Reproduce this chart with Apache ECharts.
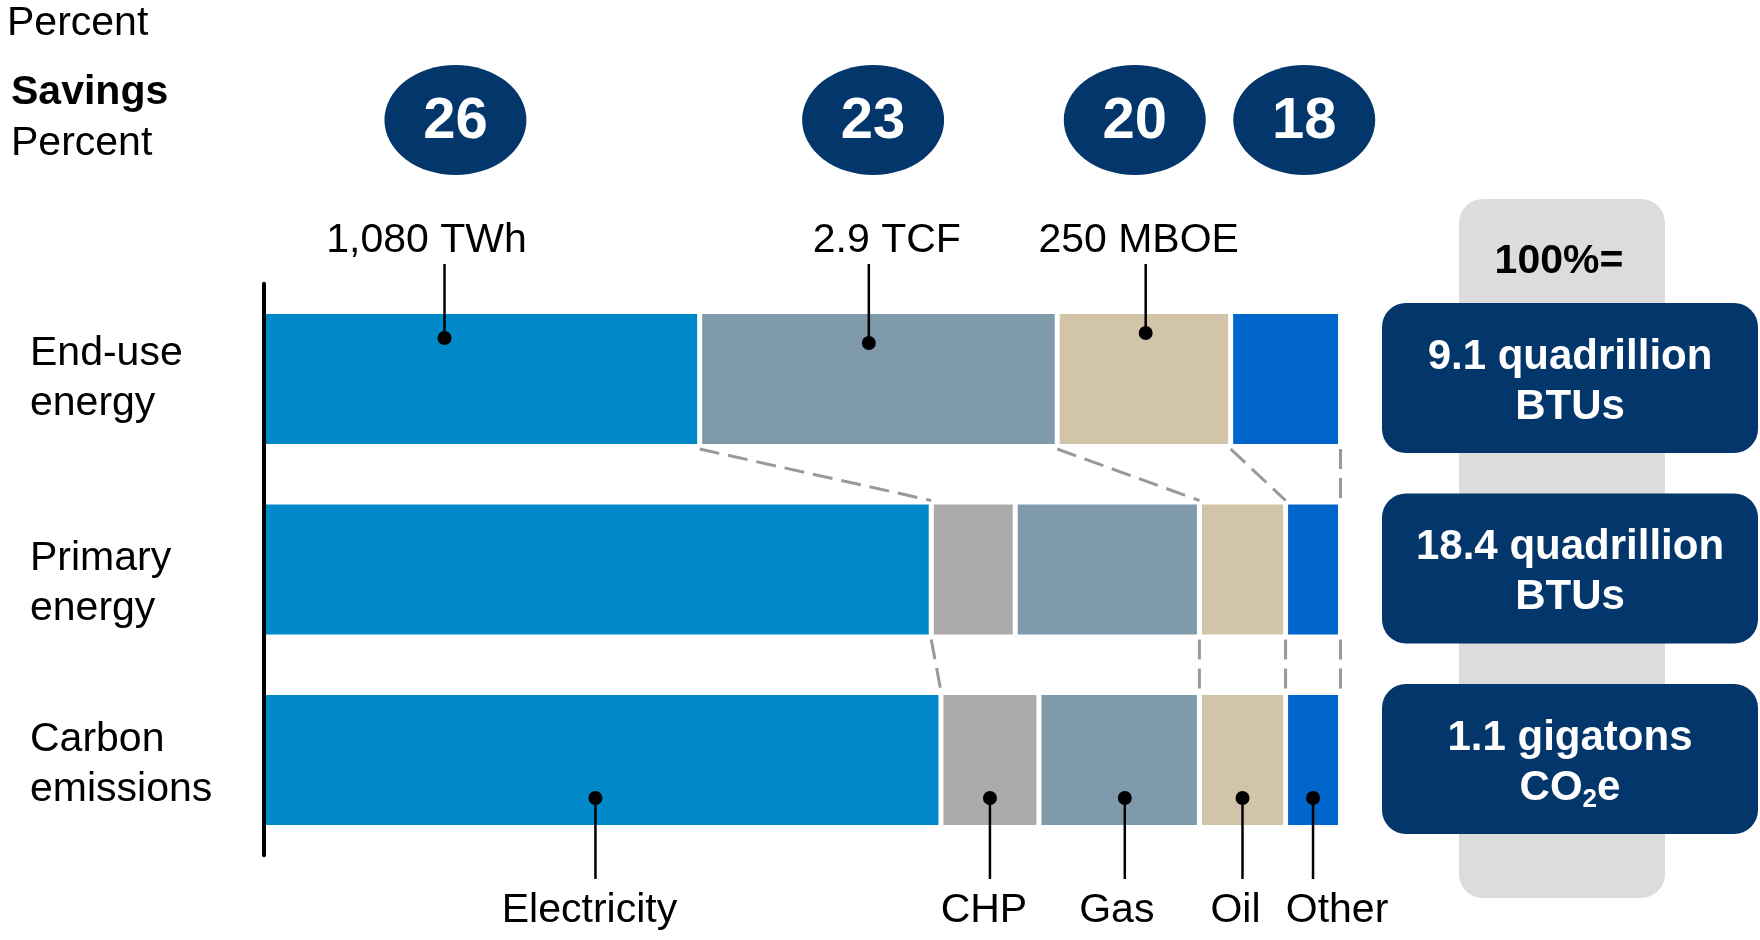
<!DOCTYPE html>
<html>
<head>
<meta charset="utf-8">
<script src="https://cdn.jsdelivr.net/npm/echarts@6/dist/echarts.min.js"></script>
<style>
  html, body { margin: 0; padding: 0; background: #ffffff; }
  #chart { width: 1760px; height: 940px; }
</style>
</head>
<body>
<div id="chart"></div>
<script>
// ---- data ----
const rows = ['End-use\nenergy', 'Primary\nenergy', 'Carbon\nemissions'];
const sources = ['Electricity', 'CHP', 'Gas', 'Oil', 'Other'];
const electricity = [40.5, 62.0, 62.9];
const chp = [null, 7.8, 9.1];
const gas = [33.2, 17.1, 14.9];
const oil = [16.1, 8.0, 8.0];
const other = [10.2, 5.1, 5.1];

const savingsSources = ['Electricity', 'Gas', 'Oil', 'Other'];
const savingsPct = [26, 23, 20, 18];

const endUseUnitSources = ['Electricity', 'Gas', 'Oil'];
const endUseUnits = ['1,080 TWh', '2.9 TCF', '250 MBOE'];

const totalsAmount = ['9.1 quadrillion', '18.4 quadrillion', '1.1 gigatons'];
const totalsUnit = ['BTUs', 'BTUs', 'CO2e'];

const linkedSources = ['Electricity', 'Gas', 'Oil', 'Other'];

// ---- styling / layout ----
const FONT = '"Liberation Sans", Arial, Helvetica, sans-serif';
const FS = 41;
const NAVY = '#03366A';
const COLORS = { Electricity: '#0089C8', CHP: '#AAAAAA', Gas: '#7F9AAA', Oil: '#D2C4A9', Other: '#0066CC' };
const BAR_HALF = 65;
const ROW_LABEL_DY = [0, 14, 5];
const TOP_CALLOUT_AT = { Electricity: 0.415, Gas: 0.473, Oil: 0.51 };
const TOP_DOT_DY = { Electricity: 24, Gas: 29, Oil: 19 };
const TOP_LABEL_DX = { Electricity: -18, Gas: 18, Oil: -7 };
const BUBBLE_AT = { Electricity: 0.44, Gas: 0.485, Oil: 0.447, Other: 0.67 };
const BOTTOM_CALLOUT_AT = { Electricity: 0.49, CHP: 0.5, Gas: 0.535, Oil: 0.5, Other: 0.5 };
const BOTTOM_LABEL_DX = { Electricity: -6, CHP: -6, Gas: -8, Oil: -7, Other: 24 };

const valuesBySource = { Electricity: electricity, CHP: chp, Gas: gas, Oil: oil, Other: other };

// start / end of a source's segment within a row (stacked order)
function segment(src, row) {
  let start = 0;
  for (const s of sources) {
    const v = valuesBySource[s][row];
    if (s === src) return v == null ? null : [start, start + v];
    if (v != null) start += v;
  }
  return null;
}

const barSeries = sources.map(s => ({
  name: s,
  type: 'bar',
  stack: 'mix',
  barWidth: 135,
  data: valuesBySource[s],
  itemStyle: { color: COLORS[s], borderColor: '#ffffff', borderWidth: 2.5 },
  emphasis: { disabled: true },
  z: 2
}));

// dashed links between the end of a source in one row and the next row
const linkData = [];
for (let r = 0; r < rows.length - 1; r++) {
  for (const s of linkedSources) {
    const a = segment(s, r), b = segment(s, r + 1);
    if (a && b) linkData.push([a[1], r, b[1]]);
  }
}

const topCalloutData = endUseUnitSources.map((s, i) => {
  const seg = segment(s, 0);
  return [seg[0] + (seg[1] - seg[0]) * TOP_CALLOUT_AT[s], 0, i];
});

const bottomCalloutData = sources.map((s, i) => {
  const seg = segment(s, 2);
  return [seg[0] + (seg[1] - seg[0]) * BOTTOM_CALLOUT_AT[s], 2, i];
});

const bubbleData = savingsSources.map((s, i) => {
  const seg = segment(s, 0);
  return [seg[0] + (seg[1] - seg[0]) * BUBBLE_AT[s], 0, i];
});

const rowData = rows.map((r, i) => [0, i, i]);

const textStyle = (extra) => Object.assign({
  fontFamily: FONT, fontSize: FS, fill: '#000000', align: 'center', verticalAlign: 'middle'
}, extra);

const chart = echarts.init(document.getElementById('chart'), null, { renderer: 'canvas' });

chart.setOption({
  animation: false,
  backgroundColor: '#ffffff',
  grid: { left: 263.5, top: 283.75, width: 1077, height: 571.5, containLabel: false },
  xAxis: { type: 'value', min: 0, max: 100, show: false },
  yAxis: {
    type: 'category',
    data: rows,
    inverse: true,
    offset: 1,
    z: 10,
    axisLine: { show: true, lineStyle: { color: '#000000', width: 4 } },
    axisTick: { show: false },
    splitLine: { show: false },
    axisLabel: { show: false }
  },
  graphic: [
    { type: 'text', z: 1,
      style: { text: 'Percent', x: 7, y: 24, fontFamily: FONT, fontSize: FS, fill: '#000', verticalAlign: 'middle' } },
    { type: 'text', z: 1,
      style: { text: 'Savings', x: 11, y: 93, fontFamily: FONT, fontSize: FS, fontWeight: 'bold', fill: '#000', verticalAlign: 'middle' } },
    { type: 'text', z: 1,
      style: { text: 'Percent', x: 11, y: 144, fontFamily: FONT, fontSize: FS, fill: '#000', verticalAlign: 'middle' } },
    { type: 'rect', z: 0,
      shape: { x: 1459, y: 199, width: 206, height: 699, r: 24 },
      style: { fill: '#DCDCDC' } },
    { type: 'text', z: 1,
      style: { text: '100%=', x: 1559, y: 262, fontFamily: FONT, fontSize: FS, fontWeight: 'bold', fill: '#000', align: 'center', verticalAlign: 'middle' } }
  ],
  series: barSeries.concat([
    {
      type: 'custom', name: 'rowLabels', z: 5, silent: true,
      data: rowData,
      renderItem: (params, api) => {
        const i = api.value(2);
        const p = api.coord([0, i]);
        return {
          type: 'text',
          style: { text: rows[i], x: 30, y: p[1] + ROW_LABEL_DY[i], fontFamily: FONT, fontSize: FS,
                   lineHeight: 50, fill: '#000', align: 'left', verticalAlign: 'middle' }
        };
      }
    },
    {
      type: 'custom', name: 'links', z: 3, silent: true,
      data: linkData,
      renderItem: (params, api) => {
        const p1 = api.coord([api.value(0), api.value(1)]);
        const p2 = api.coord([api.value(2), api.value(1) + 1]);
        return {
          type: 'line',
          shape: { x1: p1[0], y1: p1[1] + BAR_HALF + 5, x2: p2[0], y2: p2[1] - BAR_HALF - 4 },
          style: { stroke: '#999999', lineWidth: 3, lineDash: [20, 9] }
        };
      }
    },
    {
      type: 'custom', name: 'unitCallouts', z: 5, silent: true,
      data: topCalloutData,
      renderItem: (params, api) => {
        const p = api.coord([api.value(0), api.value(1)]);
        const s = endUseUnitSources[api.value(2)];
        const dotY = p[1] - BAR_HALF + TOP_DOT_DY[s];
        return {
          type: 'group',
          children: [
            { type: 'line', shape: { x1: p[0], y1: 264, x2: p[0], y2: dotY }, style: { stroke: '#000', lineWidth: 2.5 } },
            { type: 'circle', shape: { cx: p[0], cy: dotY, r: 7 }, style: { fill: '#000' } },
            { type: 'text', style: textStyle({ text: endUseUnits[api.value(2)], x: p[0] + TOP_LABEL_DX[s], y: 241 }) }
          ]
        };
      }
    },
    {
      type: 'custom', name: 'sourceCallouts', z: 5, silent: true,
      data: bottomCalloutData,
      renderItem: (params, api) => {
        const p = api.coord([api.value(0), api.value(1)]);
        const s = sources[api.value(2)];
        const dotY = p[1] + BAR_HALF - 27;
        return {
          type: 'group',
          children: [
            { type: 'line', shape: { x1: p[0], y1: dotY, x2: p[0], y2: 879 }, style: { stroke: '#000', lineWidth: 2.5 } },
            { type: 'circle', shape: { cx: p[0], cy: dotY, r: 7 }, style: { fill: '#000' } },
            { type: 'text', style: textStyle({ text: s, x: p[0] + BOTTOM_LABEL_DX[s], y: 911 }) }
          ]
        };
      }
    },
    {
      type: 'custom', name: 'savings', z: 5, silent: true,
      data: bubbleData,
      renderItem: (params, api) => {
        const p = api.coord([api.value(0), api.value(1)]);
        return {
          type: 'group',
          children: [
            { type: 'circle', x: p[0], y: 120, scaleX: 71 / 55, shape: { cx: 0, cy: 0, r: 55 }, style: { fill: NAVY } },
            { type: 'text', style: textStyle({ text: String(savingsPct[api.value(2)]), x: p[0], y: 122, fill: '#ffffff', fontSize: 58, fontWeight: 'bold' }) }
          ]
        };
      }
    },
    {
      type: 'custom', name: 'totals', z: 6, silent: true,
      data: rowData,
      renderItem: (params, api) => {
        const i = api.value(2);
        const p = api.coord([0, i]);
        const cy = p[1] - 1;
        const unit = totalsUnit[i] === 'CO2e' ? '{b|CO}{s|2}{b|e}' : '{b|' + totalsUnit[i] + '}';
        return {
          type: 'group',
          children: [
            { type: 'rect', shape: { x: 1382, y: cy - 75, width: 376, height: 150, r: 24 }, style: { fill: NAVY } },
            { type: 'text', style: {
                text: '{b|' + totalsAmount[i] + '}\n' + unit,
                x: 1570, y: cy + 4, align: 'center', verticalAlign: 'middle',
                rich: {
                  b: { fontFamily: FONT, fontSize: 42, fontWeight: 'bold', fill: '#ffffff', color: '#ffffff', lineHeight: 50 },
                  s: { fontFamily: FONT, fontSize: 26, fontWeight: 'bold', fill: '#ffffff', color: '#ffffff', lineHeight: 50, verticalAlign: 'bottom' }
                }
              } }
          ]
        };
      }
    }
  ])
});
</script>
</body>
</html>
